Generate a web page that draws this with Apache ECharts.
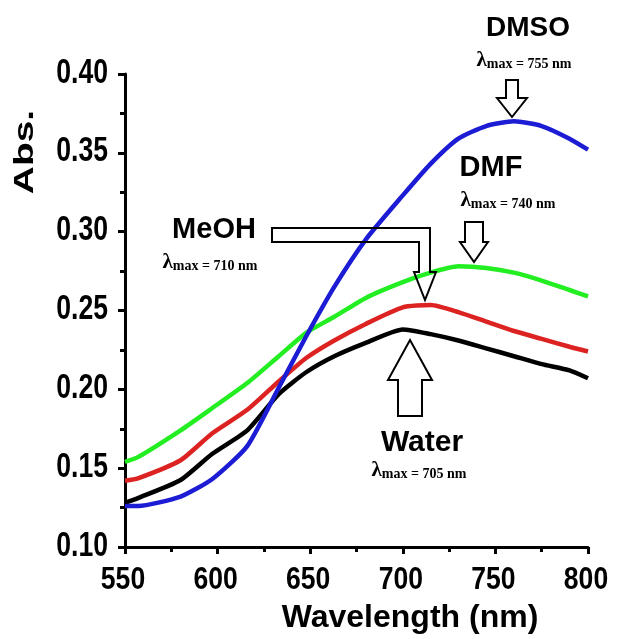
<!DOCTYPE html>
<html>
<head>
<meta charset="utf-8">
<script src="https://cdn.jsdelivr.net/npm/echarts@6/dist/echarts.min.js"></script>
<style>html,body{margin:0;padding:0;background:#fff}#c{width:617px;height:639px}</style>
</head>
<body>
<div id="c"></div>
<script>
// Data
const wavelengths = [550, 557, 580, 597, 616, 633, 648, 663, 680, 700, 715, 730, 745, 760, 775, 790, 800];
const dmso  = [0.126, 0.126, 0.132, 0.143, 0.164, 0.201, 0.234, 0.265, 0.295, 0.323, 0.343, 0.359, 0.367, 0.370, 0.367, 0.359, 0.352];
const dmf   = [0.154, 0.157, 0.174, 0.188, 0.204, 0.221, 0.236, 0.246, 0.258, 0.268, 0.274, 0.278, 0.277, 0.274, 0.269, 0.263, 0.259];
const meoh  = [0.142, 0.1435, 0.155, 0.172, 0.187, 0.205, 0.220, 0.231, 0.2415, 0.252, 0.2535, 0.249, 0.243, 0.237, 0.232, 0.227, 0.224];
const water = [0.128, 0.131, 0.1425, 0.159, 0.174, 0.197, 0.211, 0.221, 0.2295, 0.238, 0.235, 0.231, 0.226, 0.221, 0.216, 0.212, 0.207];
const seriesNames = ['DMSO', 'DMF', 'MeOH', 'Water'];
const lambdaMax = ['755', '740', '710', '705'];
const xTicks = [550, 600, 650, 700, 750, 800];
const xTickLabels = ['550', '600', '650', '700', '750', '800'];
const yTicks = [0.10, 0.15, 0.20, 0.25, 0.30, 0.35, 0.40];
const yTickLabels = ['0.10', '0.15', '0.20', '0.25', '0.30', '0.35', '0.40'];
const xTitle = 'Wavelength (nm)';
const yTitle = 'Abs.';

const pairs = arr => wavelengths.map((w, i) => [w, arr[i]]);
const sans = '"Liberation Sans", Arial, sans-serif';
const serif = '"Liberation Serif", "Times New Roman", serif';

function lambdaText(cx, cy, val) {
  return {
    type: 'text', x: cx, y: cy, z: 100,
    style: {
      text: '{l|λ}{s|max = ' + val + ' nm}',
      align: 'center', verticalAlign: 'middle',
      rich: {
        l: { fontFamily: serif, fontWeight: 'bold', fontSize: 21, fill: '#000', verticalAlign: 'bottom', lineHeight: 20 },
        s: { fontFamily: serif, fontWeight: 'bold', fontSize: 14, fill: '#000', verticalAlign: 'bottom', lineHeight: 20 }
      }
    }
  };
}
function label(text, cx, cy, size) {
  return { type: 'text', x: cx, y: cy, z: 100,
    style: { text: text, align: 'center', verticalAlign: 'middle', fontFamily: sans, fontWeight: 'bold', fontSize: size, fill: '#000' } };
}
function poly(points) {
  return { type: 'polygon', z: 90, shape: { points: points },
    style: { fill: 'rgba(255,255,255,0)', stroke: '#000', lineWidth: 2 } };
}
const lineStyleFor = c => ({ color: c, width: 4.5 });

const chart = echarts.init(document.getElementById('c'), null, { renderer: 'canvas' });
const baseGraphic = [
  label(seriesNames[0], 528, 28, 28),
  lambdaText(524, 61, lambdaMax[0]),
  poly([[506,80],[518,80],[518,98],[527,98],[512,117],[497,98],[506,98]]),
  label(seriesNames[1], 491, 168, 29),
  lambdaText(508, 201, lambdaMax[1]),
  poly([[465,222],[483,222],[483,242],[488,242],[474,262],[460,242],[465,242]]),
  label(seriesNames[2], 214, 230, 29),
  lambdaText(210, 263, lambdaMax[2]),
  poly([[272,228],[430,228],[430,272],[436,272],[425,300],[414,272],[419,272],[419,242],[272,242]]),
  poly([[410,340],[432,380],[422,380],[422,416],[398,416],[398,380],[388,380]]),
  label(seriesNames[3], 422, 443, 30),
  lambdaText(419, 471, lambdaMax[3]),
  { type: 'text', x: 410, y: 618, z: 100,
    style: { text: xTitle, align: 'center', verticalAlign: 'middle', fontFamily: sans, fontWeight: 'bold', fontSize: 32, fill: '#000' } },
  { type: 'text', x: 25, y: 152, rotation: Math.PI / 2, scaleX: 1.08, scaleY: 0.78, z: 100,
    style: { text: yTitle, align: 'center', verticalAlign: 'middle', fontFamily: sans, fontWeight: 'bold', fontSize: 36, fill: '#000' } }
];

chart.setOption({
  animation: false,
  backgroundColor: '#fff',
  grid: { left: 125, right: 29, top: 74, bottom: 92, containLabel: false, outerBoundsMode: 'none' },
  xAxis: {
    type: 'value', min: 550, max: 800, interval: 50,
    axisLine: { show: true, onZero: false, lineStyle: { color: '#000', width: 3 } },
    axisTick: { show: true, inside: false, length: 7, lineStyle: { color: '#000', width: 3 } },
    minorTick: { show: true, splitNumber: 2, length: 5, lineStyle: { color: '#000', width: 3 } },
    splitLine: { show: false },
    axisLabel: { show: false }
  },
  yAxis: {
    type: 'value', min: 0.10, max: 0.40, interval: 0.05,
    axisLine: { show: true, onZero: false, lineStyle: { color: '#000', width: 3 } },
    axisTick: { show: true, inside: false, length: 7, lineStyle: { color: '#000', width: 3 } },
    minorTick: { show: true, splitNumber: 2, length: 5, lineStyle: { color: '#000', width: 3 } },
    splitLine: { show: false },
    axisLabel: { show: false }
  },
  series: [
    { name: seriesNames[0], type: 'line', data: pairs(dmso), showSymbol: false, smooth: 0.2, lineStyle: lineStyleFor('#1c1cd4'), z: 5 },
    { name: seriesNames[1], type: 'line', data: pairs(dmf), showSymbol: false, smooth: 0.2, lineStyle: lineStyleFor('#22ee22'), z: 4 },
    { name: seriesNames[2], type: 'line', data: pairs(meoh), showSymbol: false, smooth: 0.2, lineStyle: lineStyleFor('#dd2222'), z: 3 },
    { name: seriesNames[3], type: 'line', data: pairs(water), showSymbol: false, smooth: 0.2, lineStyle: lineStyleFor('#000000'), z: 2 }
  ],
  graphic: baseGraphic
});

// Tick labels placed through the chart's own scales (condensed, tall digits as in the reference)
const tickGraphic = [];
yTicks.forEach((v, i) => {
  const p = chart.convertToPixel({ gridIndex: 0 }, [550, v]);
  tickGraphic.push({ type: 'text', x: p[0] - 17, y: p[1] - 1, scaleX: 0.76, scaleY: 1, z: 100,
    style: { text: yTickLabels[i], align: 'right', verticalAlign: 'middle', fontFamily: sans, fontWeight: 'bold', fontSize: 35, fill: '#000' } });
});
xTicks.forEach((v, i) => {
  const p = chart.convertToPixel({ gridIndex: 0 }, [v, 0.10]);
  tickGraphic.push({ type: 'text', x: p[0] - 2, y: p[1] + 33, scaleX: 0.83, scaleY: 1, z: 100,
    style: { text: xTickLabels[i], align: 'center', verticalAlign: 'middle', fontFamily: sans, fontWeight: 'bold', fontSize: 32, fill: '#000' } });
});
chart.setOption({ graphic: baseGraphic.concat(tickGraphic) });
</script>
</body>
</html>
